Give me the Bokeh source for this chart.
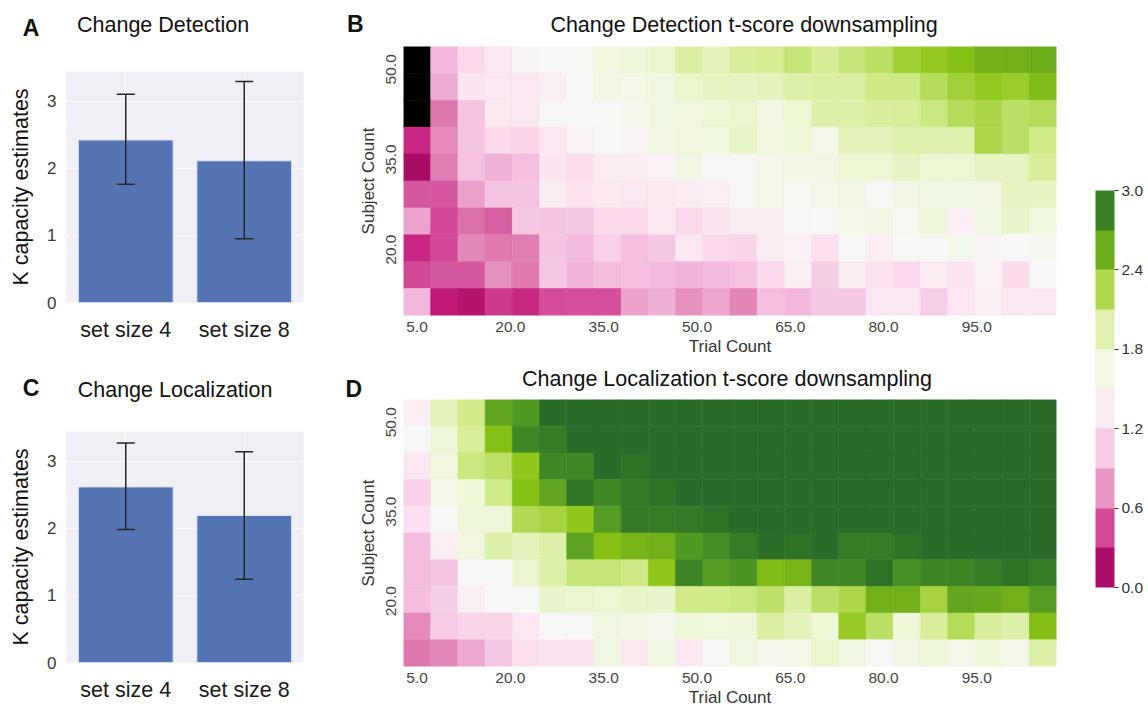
import numpy as np
from bokeh.plotting import figure
from bokeh.layouts import row, column
from bokeh.models import (ColumnDataSource, Whisker, TeeHead, LinearColorMapper, ColorBar,
                          FixedTicker, Range1d, FactorRange, PrintfTickFormatter, Div)
from bokeh.transform import transform
from bokeh.embed import file_html
from bokeh.resources import INLINE

FONT = "Liberation Sans"
NaN = float("nan")

# ---------------- data ----------------
set_sizes = ["set size 4", "set size 8"]
cd_k = [2.42, 2.11]
cd_k_low = [1.76, 0.95]
cd_k_high = [3.10, 3.29]
cl_k = [2.615, 2.19]
cl_k_low = [1.98, 1.24]
cl_k_high = [3.27, 3.14]

trial_ticks = [5.0, 20.0, 35.0, 50.0, 65.0, 80.0, 95.0]
subject_ticks = [20.0, 35.0, 50.0]
cbar_ticks = [0.0, 0.6, 1.2, 1.8, 2.4, 3.0]
k_ticks = [0, 1, 2, 3]

# t-scores, rows from top (largest subject count) to bottom, 24 trial columns
cd_tscores = [
    [NaN, 0.92, 1.15, 1.28, 1.45, 1.50, 1.55, 1.72, 1.75, 1.82, 2.00, 1.90, 2.05, 2.07, 2.15, 2.06, 2.15, 2.20, 2.32, 2.36, 2.42, 2.52, 2.53, 2.55],
    [NaN, 0.85, 1.25, 1.28, 1.30, 1.38, 1.50, 1.68, 1.64, 1.70, 1.83, 1.88, 1.87, 1.89, 1.98, 2.00, 2.00, 2.12, 2.12, 2.22, 2.30, 2.36, 2.34, 2.45],
    [NaN, 0.60, 1.00, 1.32, 1.30, 1.48, 1.50, 1.52, 1.60, 1.70, 1.72, 1.80, 1.82, 1.68, 1.80, 1.97, 1.97, 2.03, 2.05, 2.13, 2.22, 2.27, 2.20, 2.22],
    [0.35, 0.70, 1.00, 1.15, 1.12, 1.28, 1.42, 1.52, 1.46, 1.68, 1.72, 1.73, 1.86, 1.72, 1.77, 1.62, 1.90, 1.90, 1.96, 1.96, 1.96, 2.25, 2.20, 2.10],
    [0.15, 0.64, 0.98, 0.88, 0.97, 1.25, 1.18, 1.35, 1.35, 1.42, 1.66, 1.53, 1.52, 1.62, 1.68, 1.66, 1.80, 1.80, 1.87, 1.80, 1.80, 1.88, 1.88, 2.05],
    [0.50, 0.50, 0.80, 1.00, 1.00, 1.35, 1.22, 1.32, 1.30, 1.32, 1.35, 1.36, 1.52, 1.63, 1.55, 1.64, 1.67, 1.50, 1.66, 1.70, 1.70, 1.67, 1.88, 1.87],
    [0.82, 0.45, 0.58, 0.52, 1.02, 1.00, 1.02, 1.15, 1.15, 1.30, 1.15, 1.25, 1.35, 1.35, 1.48, 1.50, 1.63, 1.66, 1.57, 1.77, 1.38, 1.70, 1.85, 1.73],
    [0.35, 0.45, 0.68, 0.62, 0.64, 1.00, 0.93, 1.08, 0.97, 1.02, 1.30, 1.15, 1.12, 1.35, 1.42, 1.20, 1.50, 1.40, 1.50, 1.52, 1.58, 1.46, 1.50, 1.58],
    [0.45, 0.50, 0.50, 0.72, 0.62, 1.02, 0.90, 0.95, 0.97, 0.93, 0.90, 0.93, 0.98, 1.15, 1.40, 1.06, 1.35, 1.22, 1.14, 1.33, 1.25, 1.42, 1.17, 1.48],
    [0.92, 0.28, 0.22, 0.40, 0.35, 0.46, 0.48, 0.48, 0.80, 0.87, 0.72, 0.83, 0.67, 0.97, 0.92, 1.03, 1.03, 1.30, 1.30, 1.07, 1.28, 1.38, 1.30, 1.30],
]
cl_tscores = [
    [1.38, 1.90, 2.10, 2.60, 2.68, 3.00, 3.00, 3.00, 3.00, 3.00, 3.00, 3.00, 3.00, 3.00, 3.00, 3.00, 3.00, 3.00, 3.00, 3.00, 3.00, 3.00, 3.00, 3.00],
    [1.50, 1.78, 2.05, 2.42, 2.80, 2.88, 3.00, 3.00, 3.00, 3.00, 3.00, 3.00, 3.00, 3.00, 3.00, 3.00, 3.00, 3.00, 3.00, 3.00, 3.00, 3.00, 3.00, 3.00],
    [1.30, 1.72, 2.13, 2.18, 2.37, 2.80, 2.80, 3.00, 2.95, 3.00, 3.00, 3.00, 3.00, 3.00, 3.00, 3.00, 3.00, 3.00, 3.00, 3.00, 3.00, 3.00, 3.00, 3.00],
    [1.10, 1.62, 1.77, 2.10, 2.42, 2.60, 2.92, 2.80, 2.90, 2.95, 3.00, 3.00, 3.00, 3.00, 3.00, 3.00, 3.00, 3.00, 3.00, 3.00, 3.00, 3.00, 3.00, 3.00],
    [1.20, 1.52, 1.76, 1.76, 2.23, 2.28, 2.37, 2.65, 2.90, 2.88, 2.90, 2.95, 3.00, 3.00, 3.00, 3.00, 3.00, 3.00, 3.00, 3.00, 3.00, 3.00, 3.00, 3.00],
    [0.96, 1.40, 1.72, 1.97, 1.90, 1.97, 2.62, 2.42, 2.50, 2.52, 2.68, 2.76, 2.88, 2.97, 2.95, 3.00, 2.88, 2.88, 2.95, 3.00, 3.00, 3.00, 3.00, 3.00],
    [0.94, 1.00, 1.50, 1.52, 1.82, 1.98, 2.15, 2.15, 2.12, 2.38, 2.82, 2.65, 2.70, 2.45, 2.50, 2.80, 2.80, 2.95, 2.74, 2.82, 2.82, 2.88, 2.95, 2.88],
    [0.96, 1.06, 1.38, 1.50, 1.50, 1.85, 1.82, 1.80, 1.86, 1.85, 2.10, 2.10, 2.13, 2.18, 2.00, 2.20, 2.25, 2.52, 2.52, 2.28, 2.60, 2.57, 2.52, 2.65],
    [0.70, 1.05, 1.12, 1.12, 1.28, 1.50, 1.52, 1.70, 1.68, 1.58, 1.78, 1.74, 1.76, 2.00, 1.90, 1.77, 2.35, 2.20, 1.77, 2.03, 2.22, 2.03, 1.98, 2.43],
    [0.60, 0.68, 0.84, 1.02, 1.20, 1.25, 1.25, 1.70, 1.32, 1.70, 1.30, 1.50, 1.70, 1.60, 1.64, 1.83, 1.70, 1.50, 1.66, 1.76, 1.62, 1.75, 1.62, 1.97],
]

# grid geometry of the downsampling maps (trial / subject units)
trial_first, trial_step = 5.0, 4.375
subject_top, subject_step = 51.56, 4.476

# ---------------- colours ----------------
piyg_anchors = ["#8e0152", "#c51b7d", "#de77ae", "#f1b6da", "#fde0ef", "#f7f7f7",
                "#edf7d5", "#d2eb8c", "#8cc414", "#4d9624", "#2b6a29"]


def sample_palette(anchors, ts):
    rgb = np.array([[int(h[i:i + 2], 16) for i in (1, 3, 5)] for h in anchors], float)
    pos = np.linspace(0, 1, len(anchors))
    out = []
    for t in ts:
        c = [int(round(np.interp(t, pos, rgb[:, j]))) for j in range(3)]
        out.append("#%02x%02x%02x" % tuple(c))
    return out


cell_palette = sample_palette(piyg_anchors, np.linspace(0, 1, 256))
band_palette = sample_palette(piyg_anchors, (np.arange(10) + 0.5) / 10)
cell_mapper = LinearColorMapper(palette=cell_palette, low=0, high=3, nan_color="black")
band_mapper = LinearColorMapper(palette=band_palette, low=0, high=3)

BAR = "#5574b3"
BG = "#efeff5"


def header(width, height, items):
    """Panel letter and panel title, placed by their text baselines."""
    spans = []
    for text, x, base, size, bold, align in items:
        top = base - 0.8465 * size
        shift = "transform:translateX(-50%);" if align == "center" else ""
        spans.append(
            f'<span style="position:absolute;left:{x}px;top:{top:.1f}px;{shift}'
            f"font-family:'{FONT}',sans-serif;font-size:{size}px;line-height:1;"
            f'font-weight:{"bold" if bold else "normal"};white-space:nowrap;color:#111111">'
            f"{text}</span>")
    html = (f'<div style="position:relative;width:{width}px;height:{height}px;margin:0;padding:0">'
            + "".join(spans) + "</div>")
    return Div(text=html, width=width, height=height, margin=0,
               styles={"overflow": "visible", "margin": "0", "padding": "0"})


def bar_panel(k, lo, hi, height, top_b, bot_b):
    p = figure(width=340, height=height, x_range=FactorRange(factors=set_sizes),
               y_range=Range1d(0, 3.44), output_backend="svg", toolbar_location=None,
               min_border=0, min_border_left=66, min_border_right=37,
               min_border_top=top_b, min_border_bottom=bot_b)
    src = ColumnDataSource(dict(x=set_sizes, k=k, lo=lo, hi=hi))
    p.vbar(x="x", top="k", width=0.8, source=src, fill_color=BAR,
           line_color="#dfe5f2", line_width=1)
    w = Whisker(base="x", upper="hi", lower="lo", source=src, level="annotation",
                line_color="#262626", line_width=1.5,
                upper_head=TeeHead(size=18, line_color="#262626", line_width=1.5),
                lower_head=TeeHead(size=18, line_color="#262626", line_width=1.5))
    p.add_layout(w)
    p.background_fill_color = BG
    p.outline_line_color = None
    p.yaxis.ticker = FixedTicker(ticks=k_ticks)
    p.grid.grid_line_color = "white"
    p.grid.grid_line_width = 1.2
    p.axis.axis_line_color = None
    p.axis.major_tick_line_color = None
    p.axis.minor_tick_line_color = None
    p.axis.major_tick_out = 0
    p.axis.major_tick_in = 0
    p.axis.minor_tick_out = 0
    p.axis.major_label_text_font = FONT
    p.yaxis.major_label_text_font_size = "17px"
    p.yaxis.major_label_text_color = "#3a3a3a"
    p.yaxis.major_label_standoff = 10
    p.xaxis.major_label_text_font_size = "21.5px"
    p.xaxis.major_label_text_color = "#1a1a1a"
    p.xaxis.major_label_standoff = 15
    p.yaxis.axis_label = "K capacity estimates"
    p.yaxis.axis_label_text_font = FONT
    p.yaxis.axis_label_text_font_size = "21.5px"
    p.yaxis.axis_label_text_font_style = "normal"
    p.yaxis.axis_label_text_color = "#111111"
    p.yaxis.axis_label_standoff = 11
    return p


def heat_panel(scores, height, top_b, bot_b):
    width, left_b, frame_w = 735, 63, 653
    ncol, nrow = len(scores[0]), len(scores)
    xr = (trial_first - trial_step / 2, trial_first + (ncol - 0.5) * trial_step)
    yr = (subject_top - (nrow - 0.5) * subject_step, subject_top + subject_step / 2)
    p = figure(width=width, height=height, x_range=Range1d(*xr), y_range=Range1d(*yr),
               output_backend="svg", toolbar_location=None, min_border=0,
               min_border_left=left_b, min_border_right=width - left_b - frame_w,
               min_border_top=top_b, min_border_bottom=bot_b)
    xs, ys, vs = [], [], []
    for i, r in enumerate(scores):
        for j, v in enumerate(r):
            xs.append(trial_first + j * trial_step)
            ys.append(subject_top - i * subject_step)
            vs.append(v)
    src = ColumnDataSource(dict(x=xs, y=ys, t=np.array(vs, float)))
    p.rect(x="x", y="y", width=trial_step, height=subject_step, source=src,
           fill_color=transform("t", cell_mapper), line_color=transform("t", cell_mapper),
           line_width=0.6)
    p.grid.visible = False
    p.outline_line_color = None
    p.xaxis.ticker = FixedTicker(ticks=trial_ticks)
    p.yaxis.ticker = FixedTicker(ticks=subject_ticks)
    p.axis.formatter = PrintfTickFormatter(format="%.1f")
    p.axis.axis_line_color = None
    p.axis.major_tick_line_color = None
    p.axis.minor_tick_line_color = None
    p.axis.major_tick_out = 0
    p.axis.major_tick_in = 0
    p.axis.minor_tick_out = 0
    p.axis.major_label_text_font = FONT
    p.axis.major_label_text_font_size = "15.5px"
    p.axis.major_label_text_color = "#444444"
    p.xaxis.major_label_standoff = 6
    p.yaxis.major_label_standoff = 7
    p.yaxis.major_label_orientation = "vertical"
    p.xaxis.axis_label = "Trial Count"
    p.yaxis.axis_label = "Subject Count"
    p.axis.axis_label_text_font = FONT
    p.axis.axis_label_text_font_size = "17px"
    p.axis.axis_label_text_font_style = "normal"
    p.axis.axis_label_text_color = "#333333"
    p.xaxis.axis_label_standoff = 2
    p.yaxis.axis_label_standoff = 6
    return p


# left column: A and C
hA = header(340, 50, [("A", 22.7, 36.7, 23, True, "left"),
                      ("Change Detection", 77, 33.3, 21.5, False, "left")])
pA = bar_panel(cd_k, cd_k_low, cd_k_high, 308, 21, 56)
hC = header(340, 50, [("C", 22.7, 38.7, 23, True, "left"),
                      ("Change Localization", 77.7, 40, 21.5, False, "left")])
pC = bar_panel(cl_k, cl_k_low, cl_k_high, 301, 23, 47)

# middle column: B and D
hB = header(735, 40, [("B", 7, 32.7, 23, True, "left"),
                      ("Change Detection t-score downsampling", 404, 33.3, 21.5, False, "center")])
pB = heat_panel(cd_tscores, 318, 6, 43)
hD = header(735, 41, [("D", 5.5, 39.3, 23, True, "left"),
                      ("Change Localization t-score downsampling", 387, 28.7, 21.5, False, "center")])
pD = heat_panel(cl_tscores, 310, 0, 43)

# colour bar panel
pcb = figure(width=71, height=709, x_range=Range1d(0, 1), y_range=Range1d(0, 1),
             x_axis_type=None, y_axis_type=None, output_backend="svg", toolbar_location=None,
             min_border=0, min_border_left=20, min_border_right=32,
             min_border_top=190, min_border_bottom=122)
pcb.grid.visible = False
pcb.outline_line_color = None
pcb.background_fill_color = None
cb = ColorBar(color_mapper=band_mapper, location=(0, 0), width=19, height=397,
              padding=0, margin=0, ticker=FixedTicker(ticks=cbar_ticks),
              formatter=PrintfTickFormatter(format="%.1f"),
              major_tick_in=0, major_tick_out=4, major_tick_line_color="#333333",
              label_standoff=3, major_label_text_font=FONT, major_label_text_font_size="15.5px",
              major_label_text_color="#333333", bar_line_color=None, border_line_color=None,
              background_fill_color=None)
pcb.add_layout(cb)

layout = row(column(hA, pA, hC, pC), column(hB, pB, hD, pD), pcb)

open("out.html", "w").write(file_html(layout, INLINE))
